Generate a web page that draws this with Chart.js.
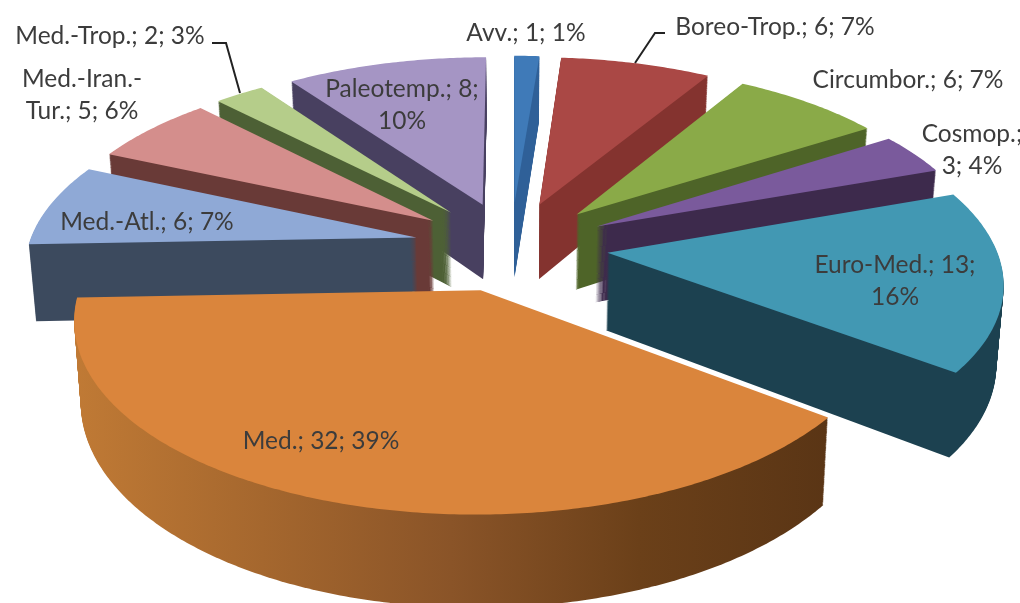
<!DOCTYPE html>
<html>
<head>
<meta charset="utf-8">
<script src="https://cdn.jsdelivr.net/npm/chart.js@4"></script>
<style>
  html, body { margin: 0; padding: 0; background: #fff; overflow: hidden; }
  #wrap { width: 1020px; height: 603px; }
</style>
</head>
<body>
<div id="wrap"><canvas id="pie3d" width="1020" height="603"></canvas></div>
<script>
// data
const categories = ['Avv.', 'Boreo-Trop.', 'Circumbor.', 'Cosmop.', 'Euro-Med.', 'Med.', 'Med.-Atl.', 'Med.-Iran.-Tur.', 'Med.-Trop.', 'Paleotemp.'];
const counts = [1, 6, 6, 3, 13, 32, 6, 5, 2, 8];
const percents = [1, 7, 7, 4, 16, 39, 7, 6, 3, 10];

// slice colours
const faceColors = ['#3f7ab8', '#aa4845', '#8aaa48', '#7a5a9c', '#4298b3', '#da853c', '#8fa9d6', '#d48e8c', '#b5cd8a', '#a595c4'];
const wallColors = [
    ['#2f6098'], ['#84332f'], ['#4e6428'], ['#3d2a4c'], ['#1c4150'],
    ['#c07a35', '#a5672e', '#8a5428', '#6b4019', '#5a3515'],
    ['#3c4a5e'], ['#693a37'], ['#4d6035'], ['#484060']
];

// label text is wrapped the way the original wraps it, [centre x, first line y]
const labelLines = [
    ['Avv.; 1; 1%'], ['Boreo-Trop.; 6; 7%'], ['Circumbor.; 6; 7%'], ['Cosmop.;', '3; 4%'], ['Euro-Med.; 13;', '16%'],
    ['Med.; 32; 39%'], ['Med.-Atl.; 6; 7%'], ['Med.-Iran.-', 'Tur.; 5; 6%'], ['Med.-Trop.; 2; 3%'], ['Paleotemp.; 8;', '10%']
];
const labelPos = [[526, 33], [775, 27], [908, 80], [972, 134], [895, 265], [321, 441], [147, 222], [82, 79], [110, 36], [402, 89]];
const leaderLines = [
    [[212, 43], [226, 43], [240, 93]],
    [[665, 33], [655, 33], [635, 63]]
];

// camera for the tilted pie, in units of one pie radius
const view = { cx: 511, cy: 246, scaleX: 388, scaleY: 179, persp: 0.141, depth: 77, taper: 0.015 };

function project(u, v, t) {
    const s = 1 / (1 - view.persp * v);
    const x = view.scaleX * u * s * (1 - view.taper * t);
    return [view.cx + x, view.cy + view.scaleY * v * s + view.depth * s * t];
}

function tracePath(ctx, poly, t) {
    ctx.beginPath();
    poly.forEach((p, i) => {
        const q = project(p[0], p[1], t);
        if (i === 0) ctx.moveTo(q[0], q[1]); else ctx.lineTo(q[0], q[1]);
    });
    ctx.closePath();
}

const pie3d = {
    id: 'pie3d',
    beforeDatasetDraw(chart) {
        const ctx = chart.ctx;
        const arcs = chart.getDatasetMeta(0).data.map((arc, i) => {
            const p = arc.getProps(['startAngle', 'endAngle', 'outerRadius'], true);
            const mid = (p.startAngle + p.endAngle) / 2;
            const e = arc.options.offset / p.outerRadius;
            const ox = e * Math.cos(mid), oy = e * Math.sin(mid);
            const poly = [[ox, oy]];
            const n = Math.max(2, Math.ceil((p.endAngle - p.startAngle) * 90));
            for (let k = 0; k <= n; k++) {
                const a = p.startAngle + (p.endAngle - p.startAngle) * k / n;
                poly.push([ox + Math.cos(a), oy + Math.sin(a)]);
            }
            return { i, poly, mid, face: arc.options.backgroundColor };
        });

        // far slices first so the nearer ones cover their walls
        arcs.sort((a, b) => Math.sin(a.mid) - Math.sin(b.mid));
        arcs.forEach(s => {
            const xs = s.poly.map(p => project(p[0], p[1], 0)[0]);
            const grad = ctx.createLinearGradient(Math.min(...xs), 0, Math.max(...xs), 0);
            const stops = wallColors[s.i];
            stops.forEach((c, k) => grad.addColorStop(stops.length > 1 ? k / (stops.length - 1) : 0, c));
            ctx.fillStyle = grad;
            for (let d = view.depth; d > 0; d--) {
                tracePath(ctx, s.poly, d / view.depth);
                ctx.fill();
            }
            ctx.fillStyle = s.face;
            tracePath(ctx, s.poly, 0);
            ctx.fill();
        });
        return false;
    },
    afterDraw(chart) {
        const ctx = chart.ctx;
        ctx.save();
        ctx.strokeStyle = '#222';
        ctx.lineWidth = 2;
        leaderLines.forEach(l => {
            ctx.beginPath();
            l.forEach((p, i) => i ? ctx.lineTo(p[0], p[1]) : ctx.moveTo(p[0], p[1]));
            ctx.stroke();
        });
        ctx.fillStyle = '#3c3c3c';
        ctx.font = '24.5px Lato';
        ctx.textAlign = 'center';
        ctx.textBaseline = 'middle';
        labelLines.forEach((lines, i) => {
            lines.forEach((txt, k) => ctx.fillText(txt, labelPos[i][0], labelPos[i][1] + k * 32));
        });
        ctx.restore();
    }
};

new Chart(document.getElementById('pie3d').getContext('2d'), {
    type: 'pie',
    data: {
        labels: categories.map((c, i) => c + '; ' + counts[i] + '; ' + percents[i] + '%'),
        datasets: [{
            data: counts,
            backgroundColor: faceColors,
            borderWidth: 0,
            offset: 67
        }]
    },
    options: {
        responsive: false,
        animation: false,
        events: [],
        plugins: {
            legend: { display: false },
            tooltip: { enabled: false },
            title: { display: false }
        }
    },
    plugins: [pie3d]
});
</script>
</body>
</html>
